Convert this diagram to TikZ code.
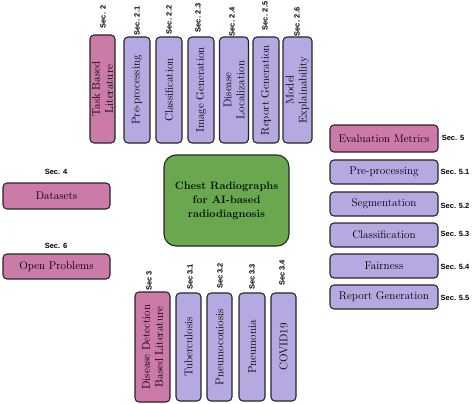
\documentclass[tikz,border=0pt]{standalone}
\usepackage{fontspec}
\setsansfont{Liberation Sans}
\begin{document}
\begin{tikzpicture}[x=1pt,y=-1pt,
  box/.style={draw=black!85, line width=1.1pt, rounded corners=4pt, inner sep=0pt, outer sep=0pt, align=center, font=\fontsize{11.2}{13}\selectfont, text=black},
  pinkbox/.style={box, fill=pinkc},
  purpbox/.style={box, fill=purpc},
  vbox/.style={rotate=90},
  seclab/.style={font=\sffamily\bfseries\fontsize{7.5}{9}\selectfont, inner sep=0pt},
  vsec/.style={seclab, rotate=90}
]
\definecolor{pinkc}{RGB}{204,122,168}
\definecolor{purpc}{RGB}{182,169,226}
\definecolor{greenc}{RGB}{106,168,79}
\useasboundingbox (0,0) rectangle (474,404);

% central node
\node[box, fill=greenc, rounded corners=12pt, minimum width=125pt, minimum height=91pt, font=\bfseries\fontsize{10.8}{14}\selectfont, text=black!90!green] (center) at (226.5,200.5) {Chest Radiographs\\for AI-based\\radiodiagnosis};

% top boxes
\node[pinkbox, vbox, minimum width=108pt, minimum height=25pt] (t0) at (102.5,89) {Task Based\\Literature};
\node[purpbox, vbox, minimum width=106pt, minimum height=26pt] (t1) at (137,90) {Pre-processing};
\node[purpbox, vbox, minimum width=106pt, minimum height=26pt] (t2) at (169,90) {Classification};
\node[purpbox, vbox, minimum width=106pt, minimum height=26pt] (t3) at (201,90) {Image Generation};
\node[purpbox, vbox, minimum width=106pt, minimum height=29pt] (t4) at (234,90) {Disease\\Localization};
\node[purpbox, vbox, minimum width=106pt, minimum height=26pt] (t5) at (266,90) {Report Generation};
\node[purpbox, vbox, minimum width=106pt, minimum height=29pt] (t6) at (297.5,90) {Model\\Explainability};

\node[vsec] (s0) at (103,17) {Sec. 2};
\node[vsec] (s1) at (137,21) {Sec. 2.1};
\node[vsec] (s2) at (169,20) {Sec. 2.2};
\node[vsec] (s3) at (198,18) {Sec. 2.3};
\node[vsec] (s4) at (232,22) {Sec. 2.4};
\node[vsec] (s5) at (265,16) {Sec. 2.5};
\node[vsec] (s6) at (297,22) {Sec. 2.6};

% left boxes
\node[pinkbox, minimum width=107pt, minimum height=26pt] (ds) at (56.5,196) {Datasets};
\node[seclab] (sds) at (56,172) {Sec. 4};
\node[pinkbox, minimum width=107pt, minimum height=25pt] (op) at (56.5,266.5) {Open Problems};
\node[seclab] (sop) at (56,246) {Sec. 6};

% right boxes
\node[pinkbox, minimum width=108pt, minimum height=27pt] (r0) at (384,138.5) {Evaluation Metrics};
\node[purpbox, minimum width=108pt, minimum height=24pt] (r1) at (384,172) {Pre-processing};
\node[purpbox, minimum width=108pt, minimum height=24pt] (r2) at (384,204) {Segmentation};
\node[purpbox, minimum width=108pt, minimum height=24pt] (r3) at (384,235) {Classification};
\node[purpbox, minimum width=108pt, minimum height=24pt] (r4) at (384,266) {Fairness};
\node[purpbox, minimum width=108pt, minimum height=24pt] (r5) at (384,297) {Report Generation};

\node[seclab] (sr0) at (453,138) {Sec. 5};
\node[seclab] (sr1) at (455,172) {Sec. 5.1};
\node[seclab] (sr2) at (455,206) {Sec. 5.2};
\node[seclab] (sr3) at (455,234) {Sec. 5.3};
\node[seclab] (sr4) at (455,267) {Sec. 5.4};
\node[seclab] (sr5) at (455,298) {Sec. 5.5};

% bottom boxes
\node[pinkbox, vbox, minimum width=110pt, minimum height=35pt] (b0) at (152.5,347) {Disease Detection\\Based Literature};
\node[purpbox, vbox, minimum width=108pt, minimum height=25pt] (b1) at (188.5,347) {Tuberculosis};
\node[purpbox, vbox, minimum width=108pt, minimum height=25pt] (b2) at (219.5,347) {Pneumoconiosis};
\node[purpbox, vbox, minimum width=108pt, minimum height=26pt] (b3) at (252,347) {Pneumonia};
\node[purpbox, vbox, minimum width=108pt, minimum height=25pt] (b4) at (283.5,347) {COVID19};

\node[vsec] (sb0) at (149,281) {Sec 3};
\node[vsec] (sb1) at (190,277) {Sec 3.1};
\node[vsec] (sb2) at (220,276) {Sec 3.2};
\node[vsec] (sb3) at (252,277) {Sec 3.3};
\node[vsec] (sb4) at (282,273) {Sec 3.4};
\end{tikzpicture}
\end{document}
